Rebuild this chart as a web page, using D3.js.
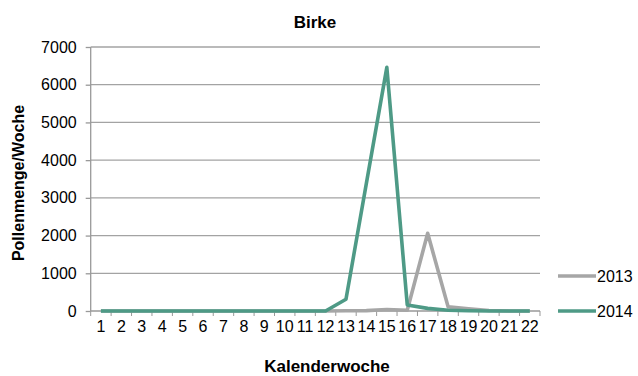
<!DOCTYPE html>
<html>
<head>
<meta charset="utf-8">
<script src="https://cdn.jsdelivr.net/npm/d3@7"></script>
<style>
  body { margin: 0; background: #fff; }
  text { font-family: "Liberation Sans", Arial, sans-serif; fill: #000; }
</style>
</head>
<body>
<svg id="chart" width="638" height="376"></svg>
<script>
// --daten--
var weeks = d3.range(1, 23);
var series2013 = [0, 0, 0, 0, 0, 0, 0, 0, 0, 0, 0, 0, 5, 10, 40, 20, 2060, 110, 60, 15, 0, 0];
var series2014 = [0, 0, 0, 0, 0, 0, 0, 0, 0, 0, 0, 0, 310, 3390, 6460, 160, 70, 20, 5, 0, 0, 0];
var yTicks = [0, 1000, 2000, 3000, 4000, 5000, 6000, 7000];
var seriesNames = ["2013", "2014"];
var seriesColors = ["#a6a6a6", "#4e9a86"];

var svg = d3.select("#chart");

// plotbereich (nicht "top" nennen, das ist window.top)
var pLeft = 90.7, pRight = 540, pTop = 47, pBottom = 311;

var x = d3.scaleBand().domain(weeks).range([pLeft, pRight]).padding(0);
var y = d3.scaleLinear().domain([0, 7000]).range([pBottom, pTop]);

// gitterlinien
svg.append("g")
  .selectAll("line")
  .data(yTicks.filter(function (d) { return d > 0; }))
  .join("line")
  .attr("x1", pLeft).attr("x2", pRight)
  .attr("y1", function (d) { return y(d); })
  .attr("y2", function (d) { return y(d); })
  .attr("stroke", "#a3a3a3")
  .attr("stroke-width", 1.3);

// y-achse
var yAxis = svg.append("g")
  .attr("transform", "translate(" + pLeft + ",0)")
  .call(d3.axisLeft(y).tickValues(yTicks).tickSize(5).tickPadding(9).tickFormat(d3.format("d")));
yAxis.selectAll("text").style("font-size", "16px");

// x-achse
var xAxis = svg.append("g")
  .attr("transform", "translate(0," + pBottom + ")")
  .call(d3.axisBottom(x).tickSize(0).tickPadding(10));
xAxis.selectAll("text").style("font-size", "16px");
xAxis.selectAll(".tick line").remove();
// teilstriche zwischen den kategorien
svg.append("g")
  .selectAll("line")
  .data(d3.range(0, weeks.length + 1))
  .join("line")
  .attr("x1", function (i) { return pLeft + i * x.bandwidth(); })
  .attr("x2", function (i) { return pLeft + i * x.bandwidth(); })
  .attr("y1", pBottom).attr("y2", pBottom + 5)
  .attr("stroke", "#999");

svg.selectAll(".domain, .tick line").attr("stroke", "#999").attr("stroke-width", 1.3);
xAxis.select(".domain").attr("d", "M" + pLeft + ",0H" + pRight);
yAxis.select(".domain").attr("d", "M0," + pBottom + "V" + pTop);

// linien
var line = d3.line()
  .x(function (d, i) { return x(weeks[i]) + x.bandwidth() / 2; })
  .y(function (d) { return y(d); });

[series2013, series2014].forEach(function (s, k) {
  svg.append("path")
    .datum(s)
    .attr("d", line)
    .attr("fill", "none")
    .attr("stroke", seriesColors[k])
    .attr("stroke-width", 3.6)
    .attr("stroke-linejoin", "round");
});

// titel
svg.append("text")
  .attr("x", 315).attr("y", 28)
  .attr("text-anchor", "middle")
  .style("font-size", "17px").style("font-weight", "bold")
  .text("Birke");

// achsentitel
svg.append("text")
  .attr("x", 327).attr("y", 372)
  .attr("text-anchor", "middle")
  .style("font-size", "17px").style("font-weight", "bold")
  .text("Kalenderwoche");

svg.append("text")
  .attr("transform", "translate(24,183) rotate(-90)")
  .attr("text-anchor", "middle")
  .style("font-size", "16px").style("font-weight", "bold")
  .text("Pollenmenge/Woche");

// legende
var legend = svg.append("g")
  .selectAll("g")
  .data(seriesNames)
  .join("g")
  .attr("transform", function (d, i) { return "translate(558," + (276 + i * 35) + ")"; });
legend.append("line")
  .attr("x1", 0).attr("x2", 38)
  .attr("stroke", function (d, i) { return seriesColors[i]; })
  .attr("stroke-width", 3.6);
legend.append("text")
  .attr("x", 39).attr("y", 6)
  .style("font-size", "16px")
  .text(function (d) { return d; });
</script>
</body>
</html>
